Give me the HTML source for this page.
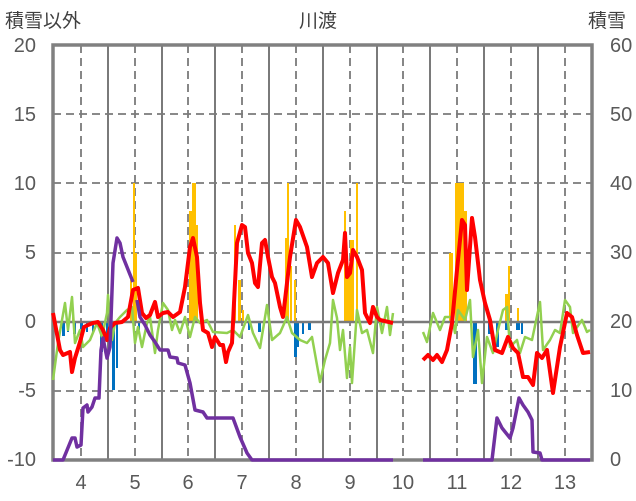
<!DOCTYPE html>
<html><head><meta charset="utf-8"><style>
html,body{margin:0;padding:0;background:#fff;}
svg{display:block}
text{font-family:"Liberation Sans","Noto Sans CJK JP",sans-serif;fill:#595959;}
</style></head><body>
<svg width="636" height="501" viewBox="0 0 636 501" xmlns="http://www.w3.org/2000/svg">
<g font-size="19">
<text x="5" y="27" style="fill:#404040">積雪以外</text>
<text x="318" y="27" text-anchor="middle" style="fill:#404040">川渡</text>
<text x="588" y="27" style="fill:#404040">積雪</text>
</g>
<g font-size="20" text-anchor="end">
<text x="36" y="52">20</text><text x="36" y="121">15</text><text x="36" y="190">10</text>
<text x="36" y="259">5</text><text x="36" y="328">0</text><text x="36" y="397">-5</text><text x="36" y="466">-10</text>
</g>
<g font-size="20">
<text x="610" y="52">60</text><text x="610" y="121">50</text><text x="610" y="190">40</text>
<text x="610" y="259">30</text><text x="610" y="328">20</text><text x="610" y="397">10</text><text x="610" y="466">0</text>
</g>
<g font-size="20" text-anchor="middle">
<text x="81" y="489">4</text><text x="135" y="489">5</text><text x="188" y="489">6</text><text x="242" y="489">7</text>
<text x="296" y="489">8</text><text x="350" y="489">9</text><text x="403" y="489">10</text><text x="457" y="489">11</text>
<text x="511" y="489">12</text><text x="565" y="489">13</text>
</g>
<!-- grid -->
<g stroke="#7a7a7a" stroke-width="1.8" stroke-dasharray="8,5">
<line x1="53" y1="114" x2="592" y2="114"/><line x1="53" y1="183" x2="592" y2="183"/>
<line x1="53" y1="253" x2="592" y2="253"/><line x1="53" y1="391" x2="592" y2="391"/>
<line x1="81" y1="45" x2="81" y2="460"/><line x1="135" y1="45" x2="135" y2="460"/><line x1="188" y1="45" x2="188" y2="460"/>
<line x1="242" y1="45" x2="242" y2="460"/><line x1="296" y1="45" x2="296" y2="460"/><line x1="350" y1="45" x2="350" y2="460"/>
<line x1="403" y1="45" x2="403" y2="460"/><line x1="457" y1="45" x2="457" y2="460"/><line x1="511" y1="45" x2="511" y2="460"/>
<line x1="565" y1="45" x2="565" y2="460"/>
</g>
<g stroke="#7a7a7a" stroke-width="2">
<line x1="108" y1="45" x2="108" y2="460"/><line x1="162" y1="45" x2="162" y2="460"/><line x1="215" y1="45" x2="215" y2="460"/>
<line x1="269" y1="45" x2="269" y2="460"/><line x1="323" y1="45" x2="323" y2="460"/><line x1="377" y1="45" x2="377" y2="460"/>
<line x1="430" y1="45" x2="430" y2="460"/><line x1="484" y1="45" x2="484" y2="460"/><line x1="538" y1="45" x2="538" y2="460"/>
</g>
<!-- bars -->
<g fill="#FFC000">
<rect x="72" y="310" width="2" height="12"/>
<rect x="133" y="183" width="2" height="139"/><rect x="135" y="253" width="2" height="69"/><rect x="130" y="280" width="2" height="42"/>
<rect x="189" y="211" width="3" height="111"/><rect x="192" y="183" width="4" height="139"/><rect x="196" y="225" width="2" height="97"/>
<rect x="234" y="225" width="2" height="97"/><rect x="238" y="280" width="3" height="42"/><rect x="242" y="310" width="2" height="12"/>
<rect x="287" y="183" width="2" height="139"/><rect x="285" y="238" width="2" height="84"/><rect x="290" y="266" width="2" height="56"/><rect x="294" y="280" width="2" height="42"/>
<rect x="344" y="211" width="2" height="111"/><rect x="346" y="266" width="4" height="56"/><rect x="350" y="240" width="4" height="82"/><rect x="356" y="183" width="2" height="139"/>
<rect x="449" y="253" width="4" height="69"/><rect x="455" y="183" width="9" height="139"/><rect x="464" y="211" width="3" height="111"/>
<rect x="505" y="294" width="3" height="28"/><rect x="508" y="266" width="2" height="56"/><rect x="517" y="308" width="2" height="14"/>
</g>
<g fill="#0070C0">
<rect x="62" y="322" width="3" height="14"/><rect x="67" y="322" width="2" height="10"/><rect x="73" y="322" width="3" height="12"/>
<rect x="80" y="322" width="3" height="18"/><rect x="86" y="322" width="2" height="10"/><rect x="92" y="322" width="2" height="10"/>
<rect x="100" y="322" width="3" height="30"/><rect x="106" y="322" width="2" height="20"/><rect x="112" y="322" width="3" height="68"/><rect x="116" y="322" width="2" height="46"/>
<rect x="138" y="322" width="2" height="8"/><rect x="258" y="322" width="3" height="10"/><rect x="248" y="322" width="2" height="8"/>
<rect x="294" y="322" width="3" height="35"/><rect x="297" y="322" width="2" height="25"/><rect x="302" y="322" width="2" height="12"/><rect x="308" y="322" width="3" height="8"/>
<rect x="380" y="322" width="2" height="6"/>
<rect x="473" y="322" width="4" height="62"/><rect x="488" y="322" width="4" height="12"/><rect x="496" y="322" width="3" height="25"/>
<rect x="505" y="322" width="4" height="8"/><rect x="516" y="322" width="4" height="8"/><rect x="521" y="322" width="2" height="12"/>
</g>
<line x1="53" y1="322" x2="592" y2="322" stroke="#7a7a7a" stroke-width="2.5"/>
<rect x="53" y="45" width="539" height="415" fill="none" stroke="#808080" stroke-width="3.5"/>
<!-- green -->
<g fill="none" stroke="#92D050" stroke-width="2.5" stroke-linejoin="round">
<polyline points="53,380 58,343 65,303 68,330 72,297 75,343 80,330 83,347 90,340 97,323 102,337 107,313 108,295 112,340 115,323 120,317 127,310 132,307 135,343 138,327 142,347 147,323 150,317 155,353 158,330 163,303 168,310 172,330 175,320 180,333 185,317 190,337 195,317 200,323 207,320 213,332 227,333 233,330 240,337 248,315 253,333 260,348 267,305 272,340 280,333 287,317 292,333 300,340 307,343 312,337 320,382 325,360 330,343 333,300 337,318 340,350 343,330 347,378 350,347 352,383 357,310 362,333 367,330 373,353 377,307 382,333 387,307 390,335 393,313"/>
<polyline points="423,332 427,342 433,313 440,330 445,317 452,317 455,333 458,310 465,320 470,300 473,357 478,330 482,383 487,337 493,353 498,330 503,310 507,307 510,347 517,340 520,353 525,337 532,340 540,302 543,350 550,340 555,330 560,333 565,300 570,307 573,333 582,320 587,332 590,330"/>
</g>
<!-- red -->
<g fill="none" stroke="#FF0000" stroke-width="4" stroke-linejoin="round">
<polyline points="53,313 60,350 63,355 70,352 72,372 75,358 80,342 84,327 88,325 93,323 98,322 103,330 107,340 110,328 115,323 122,322 128,317 133,290 138,288 142,313 146,318 150,315 155,302 158,317 163,313 168,312 173,317 180,312 185,287 190,247 193,238 197,257 200,303 203,330 208,333 212,347 215,337 220,345 223,345 226,362 228,352 232,343 237,243 242,225 245,227 248,253 252,263 255,283 258,287 262,243 265,240 268,257 272,277 275,283 280,307 283,317 287,283 290,257 296,220 300,227 307,247 312,277 317,263 323,257 328,263 333,293 338,273 343,260 345,233 347,277 350,273 353,250 357,257 362,270 365,313 370,323 373,307 377,317 380,320 393,323"/>
<polyline points="423,360 428,355 433,360 437,355 442,362 447,350 452,323 457,270 462,220 465,225 467,290 472,218 475,237 480,280 485,303 490,320 495,350 502,353 508,337 513,348 518,353 523,377 528,377 533,385 537,353 542,358 547,350 553,393 560,347 567,313 572,317 577,335 583,353 590,352"/>
</g>
<!-- purple -->
<g fill="none" stroke="#7030A0" stroke-width="3.5" stroke-linejoin="round">
<polyline points="53,460 63,460 72,438 75,438 77,447 81,445 83,408 87,405 88,412 92,407 95,398 99,398 101,350 103,338 107,358 110,347 113,263 117,238 120,243 123,257 127,267 133,282"/>
<polyline points="137,300 140,317 145,325 150,335 155,342 160,350 168,350 170,357 177,358 178,363 185,365 190,383 195,410 203,412 207,418 233,418 240,437 247,453 252,460 393,460"/>
<polyline points="423,460 492,460 497,418 498,420 502,428 510,438 513,428 519,398 523,405 528,412 532,420 533,452 540,453 542,460 590,460"/>
</g>
</svg>
</body></html>
